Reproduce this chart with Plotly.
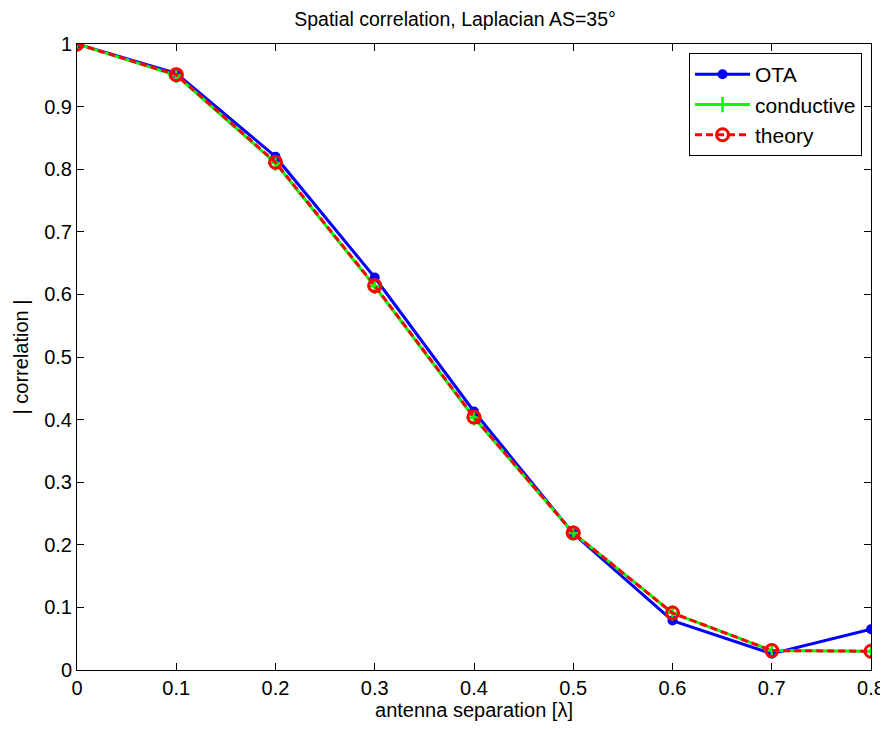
import plotly.graph_objects as go

separation = [0, 0.1, 0.2, 0.3, 0.4, 0.5, 0.6, 0.7, 0.8]
ota = [1.0, 0.953, 0.820, 0.627, 0.413, 0.218, 0.079, 0.026, 0.065]
conductive = [1.0, 0.950, 0.810, 0.613, 0.403, 0.219, 0.091, 0.031, 0.030]
theory = [1.0, 0.951, 0.811, 0.614, 0.404, 0.219, 0.091, 0.031, 0.030]

x_ticks = [0, 0.1, 0.2, 0.3, 0.4, 0.5, 0.6, 0.7, 0.8]
y_ticks = [0, 0.1, 0.2, 0.3, 0.4, 0.5, 0.6, 0.7, 0.8, 0.9, 1]

font = "Liberation Sans, Arial, sans-serif"

fig = go.Figure()
fig.add_trace(go.Scatter(
    x=separation, y=ota, name="OTA", mode="lines+markers",
    line=dict(color="#0000ff", width=3),
    marker=dict(symbol="circle", size=10, color="#0000ff"),
))
fig.add_trace(go.Scatter(
    x=separation, y=conductive, name="conductive", mode="lines+markers",
    line=dict(color="#00ff00", width=3),
    marker=dict(symbol="cross-thin", size=11, line=dict(color="#00ff00", width=2.5)),
))
fig.add_trace(go.Scatter(
    x=separation, y=theory, name="theory", mode="lines+markers",
    line=dict(color="#ff0000", width=3, dash="7px,4px"),
    marker=dict(symbol="circle-open", size=12, line=dict(color="#ff0000", width=3)),
))

axis_common = dict(
    showgrid=False, zeroline=False, showline=True, linecolor="black", linewidth=1,
    mirror="ticks", ticks="inside", ticklen=7, tickcolor="black", automargin=False,
    tickfont=dict(family=font, size=20, color="black"),
)

fig.update_layout(
    width=880, height=721,
    margin=dict(l=69, r=17, t=36, b=59, autoexpand=False),
    paper_bgcolor="white", plot_bgcolor="white",
    title=dict(text="Spatial correlation, Laplacian AS=35°", x=0.508, xanchor="center",
               y=0.985, yanchor="middle",
               font=dict(family=font, size=19.5, color="black")),
    xaxis=dict(range=[0, 0.8], tickvals=x_ticks, ticktext=[str(v) for v in x_ticks],
               title=dict(text="antenna separation [λ]", standoff=3,
                          font=dict(family=font, size=20, color="black")),
               **axis_common),
    yaxis=dict(range=[0, 1], tickvals=y_ticks, ticktext=[str(v) for v in y_ticks],
               title=dict(text="| correlation |", standoff=10,
                          font=dict(family=font, size=20, color="black")),
               **axis_common),
    legend=dict(x=0.9887, xanchor="right", y=0.9856, yanchor="top",
                bgcolor="white", bordercolor="black", borderwidth=1,
                font=dict(family=font, size=21, color="black"),
                itemwidth=55, tracegroupgap=0),
    showlegend=True,
)

fig.write_html("out.html")
